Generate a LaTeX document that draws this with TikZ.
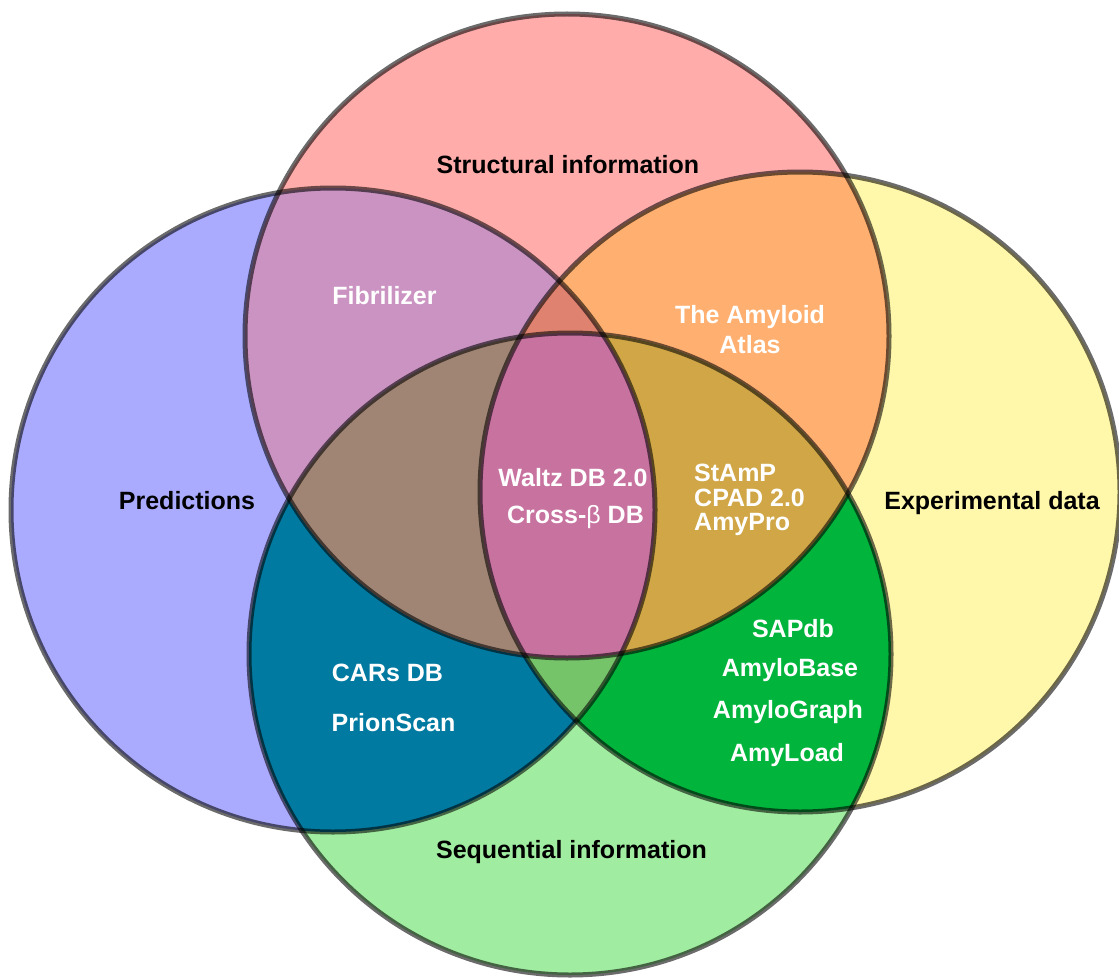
\documentclass[tikz,border=0pt]{standalone}
\usepackage{fontspec}
\setmainfont{Liberation Sans}
\definecolor{colP}{HTML}{AAAAFF}
\definecolor{colS}{HTML}{FFACAA}
\definecolor{colE}{HTML}{FFF7AA}
\definecolor{colQ}{HTML}{A0ECA0}
\definecolor{colPS}{HTML}{CB93C2}
\definecolor{colSE}{HTML}{FFB070}
\definecolor{colPQ}{HTML}{007AA0}
\definecolor{colEQ}{HTML}{00B43C}
\definecolor{colPE}{HTML}{D88CA8}
\definecolor{colSQ}{HTML}{C8A090}
\definecolor{colPSE}{HTML}{DF8270}
\definecolor{colPEQ}{HTML}{76C46A}
\definecolor{colPSQ}{HTML}{A08474}
\definecolor{colSEQ}{HTML}{D0A646}
\definecolor{colAll}{HTML}{C872A0}
\begin{document}
\begin{tikzpicture}[x=1pt,y=-1pt,
  outline/.style={draw=black,draw opacity=0.58,line width=5pt},
  lab/.style={font=\fontsize{25}{30}\selectfont\bfseries,anchor=base,inner sep=0pt},
  blab/.style={lab,text=black},
  wlab/.style={lab,text=white}]
\useasboundingbox (0,0) rectangle (1119,979);
\def\cP{(333,510) circle[radius=322pt]}
\def\cS{(567,336) circle[radius=322pt]}
\def\cE{(800,492) circle[radius=320pt]}
\def\cQ{(570,654) circle[radius=321pt]}
% single sets
\fill[colP] \cP;
\fill[colS] \cS;
\fill[colE] \cE;
\fill[colQ] \cQ;
% pairs
\begin{scope}\clip \cP; \fill[colPS] \cS; \fill[colPQ] \cQ; \fill[colPE] \cE; \end{scope}
\begin{scope}\clip \cS; \fill[colSE] \cE; \fill[colSQ] \cQ; \end{scope}
\begin{scope}\clip \cE; \fill[colEQ] \cQ; \end{scope}
% triples
\begin{scope}\clip \cP; \clip \cS; \fill[colPSE] \cE; \fill[colPSQ] \cQ; \end{scope}
\begin{scope}\clip \cP; \clip \cE; \fill[colPEQ] \cQ; \end{scope}
\begin{scope}\clip \cS; \clip \cE; \fill[colSEQ] \cQ; \end{scope}
% all four
\begin{scope}\clip \cP; \clip \cS; \clip \cE; \fill[colAll] \cQ; \end{scope}
% outlines
\draw[outline] \cP;
\draw[outline] \cS;
\draw[outline] \cE;
\draw[outline] \cQ;
% set labels
\node[blab] (tS) at (568,173) {Structural information};
\node[blab] (tP) at (187,509) {Predictions};
\node[blab] (tE) at (992,509) {Experimental data};
\node[blab] (tQ) at (571.5,858) {Sequential information};
% region labels
\node[wlab] (fib) at (384.5,304) {Fibrilizer};
\node[wlab] (atl1) at (750,323) {The Amyloid};
\node[wlab] (atl2) at (750,353) {Atlas};
\node[wlab] (wal) at (573,486) {Waltz DB 2.0};
\node[wlab] (crb) at (575.5,523) {Cross-{\mdseries β} DB};
\node[wlab,anchor=base west] (stp) at (694,481) {StAmP};
\node[wlab,anchor=base west] (cpd) at (694,506) {CPAD 2.0};
\node[wlab,anchor=base west] (amp) at (694,530) {AmyPro};
\node[wlab] (sap) at (793,637) {SAPdb};
\node[wlab] (abs) at (790,676) {AmyloBase};
\node[wlab] (agr) at (788,718) {AmyloGraph};
\node[wlab] (ald) at (787,761) {AmyLoad};
\node[wlab] (car) at (387.5,681) {CARs DB};
\node[wlab] (prs) at (393.5,731) {PrionScan};
\end{tikzpicture}
\end{document}
